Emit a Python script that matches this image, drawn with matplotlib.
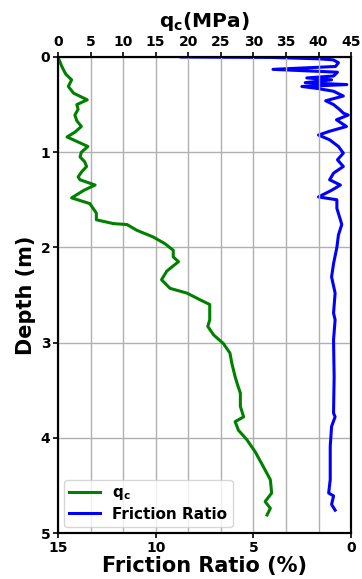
import numpy as np
import matplotlib.pyplot as plt

# cone resistance profile
qc_depth = [0.0, 0.05, 0.10, 0.18, 0.24, 0.31, 0.38, 0.45, 0.50, 0.55, 0.61, 0.67, 0.73, 0.79,
            0.84, 0.89, 0.94, 1.00, 1.05, 1.10, 1.15, 1.21, 1.26, 1.29, 1.345, 1.40, 1.48, 1.54,
            1.64, 1.71, 1.75, 1.76, 1.82, 1.89, 1.96, 2.03, 2.10, 2.15, 2.25, 2.34, 2.43, 2.48,
            2.55, 2.60, 2.68, 2.76, 2.83, 2.92, 3.01, 3.11, 3.22, 3.36, 3.45, 3.53, 3.67, 3.78,
            3.83, 3.92, 4.02, 4.15, 4.30, 4.44, 4.58, 4.67, 4.74, 4.81]
qc_vals = [0.0, 0.3, 0.6, 1.2, 2.1, 1.6, 2.4, 4.5, 2.9, 3.1, 2.6, 2.9, 3.6, 2.6,
           1.4, 3.0, 4.6, 3.6, 3.4, 4.1, 4.4, 3.6, 3.1, 3.4, 5.7, 4.0, 2.1, 4.9,
           5.9, 5.9, 8.5, 10.6, 12.1, 14.6, 16.4, 17.7, 17.7, 18.5, 16.7, 15.9, 17.2, 19.8,
           21.8, 23.3, 23.3, 23.3, 23.0, 23.9, 25.4, 26.4, 26.7, 27.2, 27.6, 28.0, 28.0, 28.5,
           27.2, 27.7, 29.0, 30.3, 31.5, 32.6, 32.8, 31.8, 32.6, 32.1]

# friction ratio profile
fr_depth = [0.0, 0.005, 0.02, 0.03, 0.06, 0.10, 0.13, 0.16, 0.20, 0.22, 0.24, 0.27, 0.29, 0.31,
            0.33, 0.36, 0.41, 0.46, 0.50, 0.55, 0.59, 0.61, 0.66, 0.73, 0.78, 0.82, 0.87, 0.94,
            1.01, 1.08, 1.15, 1.22, 1.29, 1.345, 1.40, 1.47, 1.50, 1.59, 1.71, 1.76, 1.87, 2.00,
            2.17, 2.31, 2.48, 2.69, 2.76, 2.97, 3.36, 3.74, 3.78, 3.88, 4.09, 4.44, 4.58, 4.61,
            4.70, 4.76]
fr_vals = [8.7, 4.0, 1.6, 0.92, 0.65, 0.8, 4.0, 0.7, 0.9, 2.27, 1.0, 2.35, 0.22, 2.52,
           1.75, 0.9, 0.4, 1.3, 0.9, 0.6, 0.4, 0.15, 0.75, 0.24, 1.1, 1.67, 1.1, 0.65,
           0.4, 0.7, 0.4, 0.9, 1.1, 0.55, 1.0, 1.67, 0.73, 0.73, 0.55, 0.48, 0.65, 0.73,
           0.9, 1.0, 0.82, 0.9, 0.82, 0.9, 0.87, 0.9, 0.82, 1.0, 1.07, 1.07, 1.15, 0.9,
           1.0, 0.82]

qc_ticks = np.arange(0, 50, 5)
fr_ticks = [15, 10, 5, 0]
depth_ticks = [0, 1, 2, 3, 4, 5]

fig = plt.figure(figsize=(3.62, 5.79), dpi=100)
ax = fig.add_axes([0.160, 0.0794, 0.810, 0.8222])
ax2 = ax.twiny()

l2, = ax.plot(fr_vals, fr_depth, color='blue', lw=2.2, label='Friction Ratio')
l1, = ax2.plot(qc_vals, qc_depth, color='green', lw=2.2, label=r'$\mathbf{q_c}$')

ax.set_xlim(15, 0)
ax.set_ylim(5, 0)
ax2.set_xlim(0, 45)
ax.set_xticks(fr_ticks)
ax2.set_xticks(qc_ticks)
ax.set_yticks(depth_ticks)

ax2.grid(True, color='#b0b0b0', lw=1.0)
ax.yaxis.grid(True, color='#b0b0b0', lw=1.0)

for a in (ax, ax2):
    for s in a.spines.values():
        s.set_linewidth(1.5)
    a.tick_params(labelsize=10, width=1.2, length=3.5, pad=2)
    for t in a.get_xticklabels() + a.get_yticklabels():
        t.set_fontweight('bold')

ax.set_xlabel('Friction Ratio (%)', fontsize=15, fontweight='bold', labelpad=1)
ax.set_ylabel('Depth (m)', fontsize=15, fontweight='bold', labelpad=3)
ax2.set_xlabel(r'$\mathbf{q_c}$(MPa)', fontsize=14.5, fontweight='bold', labelpad=6)

ax2.legend(handles=[l1, l2], loc='lower left', prop={'weight': 'bold', 'size': 11},
           borderaxespad=0.4, handlelength=2.0, borderpad=0.35, labelspacing=0.3)

fig.savefig('out.png', dpi=100)
